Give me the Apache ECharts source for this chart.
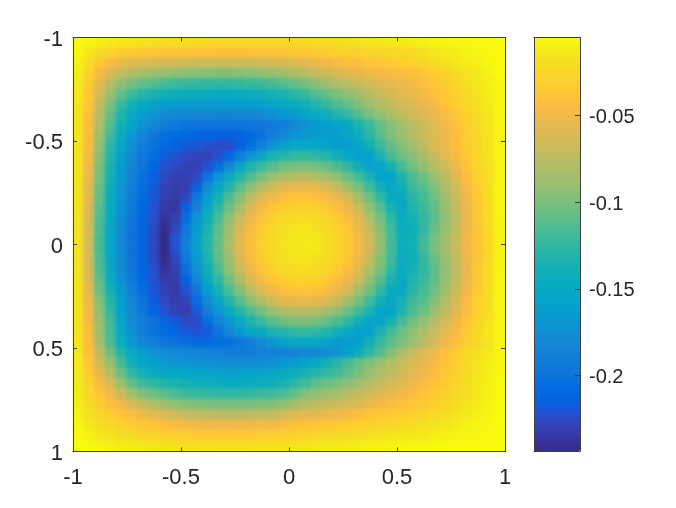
<!DOCTYPE html>
<html><head><meta charset="utf-8">
<style>html,body{margin:0;padding:0;background:#fff}#c{width:676px;height:508px}</style>
<script src="https://cdn.jsdelivr.net/npm/echarts@6/dist/echarts.min.js"></script>
</head><body><div id="c"></div>
<script>
// magnitudes in thousandths (value = -m/1000); rows top (y=-1) to bottom (y=1), columns left (x=-1) to right (x=1)
const surfaceRows = [
[6,8,10,12,14,15,17,18,19,20,21,22,23,24,24,25,25,25,25,24,24,23,22,21,20,19,17,16,14,13,12,11,10,9,8,8,7,6,5,5],
[8,15,22,28,32,35,37,38,39,40,40,41,41,42,42,42,41,41,40,39,37,36,34,32,31,30,29,28,27,25,24,22,19,16,13,11,9,8,7,6],
[10,22,36,46,52,57,60,62,64,65,66,67,68,68,68,68,67,66,65,63,60,57,53,50,47,44,42,39,37,34,31,29,25,22,19,15,12,10,8,6],
[12,28,47,62,72,79,84,88,91,93,95,96,97,97,97,96,95,93,90,87,83,78,72,67,62,58,54,50,48,46,44,42,38,33,28,22,17,13,9,6],
[14,32,56,77,92,102,108,113,117,120,122,124,125,125,125,124,122,120,117,113,108,102,95,87,80,75,70,65,60,56,52,48,43,38,32,26,20,15,11,7],
[15,36,64,90,108,120,129,135,139,141,143,144,145,146,146,145,143,141,138,134,129,122,114,107,100,93,85,76,70,64,58,53,48,42,36,29,23,17,12,7],
[16,39,72,100,122,138,150,158,163,165,166,166,166,165,165,164,162,159,156,152,147,140,132,124,116,108,98,88,80,72,65,59,54,47,40,33,26,19,13,7],
[17,42,78,108,132,149,162,171,177,180,182,183,183,183,183,182,180,178,174,170,164,157,148,140,132,125,113,102,92,82,73,67,60,53,45,37,29,21,14,8],
[17,44,82,113,140,158,172,182,190,194,197,198,199,199,199,198,197,195,193,191,184,175,168,162,158,150,136,122,108,96,85,77,68,60,50,41,32,23,15,8],
[17,45,88,120,147,168,184,195,203,207,210,212,213,214,214,212,208,200,190,180,172,168,165,163,161,155,143,128,113,100,89,78,70,60,52,43,33,24,16,8],
[17,47,92,127,154,176,190,200,208,213,218,220,222,225,224,215,205,190,172,158,151,150,152,158,163,165,155,140,122,108,97,85,74,62,53,43,33,25,16,8],
[17,49,96,132,160,180,195,207,216,222,226,228,230,222,210,192,172,150,136,130,125,124,126,131,140,150,162,160,135,118,105,95,83,70,58,46,35,25,16,8],
[17,51,100,136,164,184,198,211,222,226,230,231,222,205,180,155,134,122,112,105,101,100,102,107,116,126,142,158,158,137,118,103,92,78,66,52,40,28,18,8],
[17,53,103,139,167,187,202,215,226,231,232,226,200,172,148,130,115,101,90,82,77,75,78,85,94,106,120,136,158,155,133,115,105,90,75,58,44,30,19,8],
[17,55,106,142,170,190,205,218,229,233,232,215,177,151,131,111,94,80,66,58,55,53,55,60,71,86,102,120,140,152,140,120,112,98,81,64,47,32,20,8],
[17,57,109,145,172,192,207,220,231,235,226,195,162,138,115,96,75,60,50,43,40,38,41,45,53,64,85,104,125,146,150,128,118,105,87,69,50,34,21,8],
[17,60,112,148,174,194,209,222,234,236,215,186,150,127,104,83,61,48,38,32,28,27,29,35,42,53,68,92,112,136,150,132,122,109,90,72,53,36,22,8],
[18,62,114,150,176,196,211,224,238,232,205,172,142,117,93,70,52,40,31,25,22,20,23,27,34,44,58,80,103,127,147,138,125,111,92,74,54,37,23,9],
[18,64,116,152,178,198,212,225,242,228,197,164,136,110,87,62,45,34,25,20,17,15,18,22,29,38,52,72,97,121,145,142,124,107,90,73,53,38,24,9],
[18,65,118,153,180,199,213,226,243,222,190,160,132,107,83,58,43,31,23,18,14,13,14,19,26,36,48,66,93,118,143,140,120,102,86,71,52,38,24,10],
[18,65,118,153,180,199,213,226,243,222,190,160,132,107,83,58,43,31,23,18,14,13,14,19,26,36,48,66,93,118,143,140,120,102,86,71,52,38,24,10],
[18,64,116,152,178,198,212,225,242,228,195,164,136,110,87,62,45,34,25,20,17,15,18,22,29,38,52,72,97,121,145,142,124,107,90,73,53,38,24,9],
[18,62,114,150,176,196,211,224,238,231,203,172,142,117,93,70,52,40,31,25,22,20,23,27,34,44,58,80,103,127,147,138,125,111,92,74,54,37,23,9],
[17,60,110,146,174,194,209,222,234,234,214,184,150,127,104,83,61,48,38,32,28,27,29,35,42,53,68,92,112,136,150,132,122,109,90,72,53,36,22,8],
[17,56,105,138,168,190,206,220,230,235,222,195,162,138,115,96,75,60,50,43,40,38,41,45,53,64,85,104,125,146,150,128,118,105,87,69,50,34,21,8],
[17,52,98,130,163,184,200,216,226,233,230,205,177,151,131,111,94,80,66,58,55,53,55,60,71,86,102,120,140,152,140,120,112,98,80,63,46,31,20,8],
[17,50,92,125,160,180,196,212,222,230,233,220,190,170,148,130,115,101,90,82,77,75,78,85,94,106,120,136,158,155,133,115,105,89,74,58,43,30,19,8],
[17,48,90,120,156,178,190,198,210,218,226,225,205,186,168,150,134,122,112,105,101,100,102,107,116,126,142,158,158,137,118,103,92,78,65,51,39,27,17,8],
[17,46,88,118,152,174,190,200,207,212,218,222,218,200,182,168,155,147,136,130,125,124,126,131,140,150,162,160,135,118,105,93,81,69,57,46,35,24,15,8],
[17,45,85,115,145,168,182,192,197,200,204,207,208,206,203,196,188,178,168,158,151,150,152,158,164,165,160,140,122,110,100,88,76,64,52,42,33,25,16,8],
[14,42,75,105,130,150,165,172,176,180,182,185,187,188,190,190,190,189,187,186,185,182,180,178,172,160,143,127,112,96,82,70,60,50,41,33,25,18,13,8],
[15,38,65,90,118,140,155,162,166,168,170,172,174,176,178,178,178,176,174,170,166,160,151,140,128,118,107,97,88,79,70,62,55,47,39,31,24,17,12,7],
[14,32,55,78,105,125,138,146,150,152,154,155,156,158,160,160,158,155,152,148,144,137,130,124,118,110,100,90,81,73,66,58,51,44,37,30,23,16,11,7],
[13,28,45,62,88,108,120,126,130,134,138,140,142,144,145,145,144,142,140,136,128,118,110,105,100,94,86,78,71,64,58,52,46,40,34,28,21,15,10,6],
[12,25,38,50,68,85,97,105,110,116,120,122,124,125,125,125,124,122,120,116,108,98,92,88,84,78,72,66,60,55,50,45,40,35,30,25,19,14,10,6],
[11,22,32,42,50,62,72,80,86,92,96,98,100,100,100,100,100,99,97,92,85,78,75,71,68,63,58,53,48,44,41,38,34,30,26,22,17,13,9,5],
[9,18,26,32,38,44,50,56,60,66,70,72,74,75,75,75,74,73,71,67,61,57,55,52,50,47,43,40,37,34,32,29,26,23,20,17,13,10,8,5],
[7,14,20,25,30,34,37,40,42,46,48,50,50,50,50,50,50,49,48,45,42,40,38,36,35,33,31,29,27,25,23,21,19,17,15,12,10,8,7,5],
[6,10,14,17,20,23,26,28,30,32,33,34,35,35,35,35,34,33,32,31,29,27,25,24,23,22,21,19,18,16,15,14,13,11,10,9,8,7,6,5],
[5,6,8,10,12,13,15,16,17,18,19,19,19,19,19,19,19,18,18,18,17,16,15,14,13,12,11,10,9,9,8,7,7,6,6,5,5,5,5,5]
];
const axisTicks = [-1, -0.5, 0, 0.5, 1];
const colorbarTicks = [-0.05, -0.1, -0.15, -0.2];
const colorMin = -0.2438, colorMax = -0.005;
const parula = [[.2081,.1663,.5292],[.2116,.1898,.5777],[.2123,.2138,.6270],[.2081,.2386,.6771],[.1959,.2645,.7279],[.1707,.2919,.7792],[.1253,.3242,.8303],[.0591,.3598,.8683],[.0117,.3875,.8820],[.0060,.4086,.8828],[.0165,.4266,.8786],[.0329,.4430,.8720],[.0498,.4586,.8641],[.0629,.4737,.8554],[.0723,.4887,.8467],[.0779,.5040,.8384],[.0793,.5200,.8312],[.0749,.5375,.8263],[.0641,.5570,.8240],[.0488,.5772,.8228],[.0343,.5966,.8199],[.0265,.6137,.8135],[.0239,.6287,.8038],[.0231,.6418,.7913],[.0228,.6535,.7768],[.0267,.6642,.7607],[.0384,.6743,.7436],[.0590,.6838,.7254],[.0843,.6928,.7062],[.1133,.7015,.6859],[.1453,.7098,.6646],[.1801,.7177,.6424],[.2178,.7250,.6193],[.2586,.7317,.5954],[.3022,.7376,.5712],[.3482,.7424,.5473],[.3953,.7459,.5244],[.4420,.7481,.5033],[.4871,.7491,.4840],[.5300,.7491,.4661],[.5709,.7485,.4494],[.6099,.7473,.4337],[.6473,.7456,.4188],[.6834,.7435,.4044],[.7184,.7411,.3905],[.7525,.7384,.3768],[.7858,.7356,.3633],[.8185,.7327,.3498],[.8507,.7299,.3360],[.8824,.7274,.3217],[.9139,.7258,.3063],[.9450,.7261,.2886],[.9739,.7314,.2666],[.9938,.7455,.2403],[.9990,.7653,.2164],[.9955,.7861,.1967],[.9880,.8066,.1794],[.9789,.8271,.1633],[.9697,.8481,.1475],[.9626,.8705,.1309],[.9589,.8949,.1132],[.9598,.9218,.0948],[.9661,.9514,.0755],[.9763,.9831,.0538]];
const parulaCss = parula.map(c => 'rgb(' + c.map(v => Math.round(v * 255)).join(',') + ')');

const cats = surfaceRows[0].map((_, i) => i);
const rowCats = surfaceRows.map((_, i) => i);
const cells = [];
surfaceRows.forEach((row, j) => row.forEach((m, i) => cells.push([i, j, -m / 1000])));

const ink = '#404040';
const font = { color: '#262626', fontFamily: 'Liberation Sans', fontSize: 22 };
const frameAxis = (extra) => Object.assign({
  type: 'value', min: -1, max: 1, interval: 0.5, z: 20, gridIndex: 0,
  splitLine: { show: false },
  axisLine: { show: true, onZero: false, lineStyle: { color: ink, width: 1 } },
  axisTick: { show: true, inside: true, length: 4, lineStyle: { color: ink, width: 1 } },
  axisLabel: { show: false }
}, extra);
const fmt = v => String(v);

// Soft cell: a radial fade around each cell centre, so neighbouring cells blend like shaded surface
function softCell(params, api) {
  const c = api.coord([api.value(0), api.value(1)]);
  const s = api.size([1, 1]);
  const col = api.visual('color');
  const clear = echarts.color.modifyAlpha(col, 0);
  return {
    type: 'rect',
    shape: { x: c[0] - s[0], y: c[1] - s[1], width: 2 * s[0], height: 2 * s[1] },
    style: { fill: { type: 'radial', x: 0.5, y: 0.5, r: 0.5, colorStops: [{ offset: 0, color: col }, { offset: 1, color: clear }] } },
    silent: true
  };
}

const chart = echarts.init(document.getElementById('c'), null, { renderer: 'canvas' });
chart.setOption({
  animation: false,
  backgroundColor: '#fff',
  grid: [
    { left: 73, top: 37.5, width: 432, height: 414 },
    { left: 534, top: 37.5, width: 46, height: 414 }
  ],
  xAxis: [
    { type: 'category', gridIndex: 0, data: cats, show: false },
    frameAxis({ position: 'bottom', axisLabel: Object.assign({ show: true, margin: 15, formatter: fmt, customValues: axisTicks }, font) }),
    frameAxis({ position: 'top' }),
    { type: 'value', gridIndex: 1, position: 'top', min: 0, max: 1, z: 20, splitLine: { show: false }, axisTick: { show: false }, axisLabel: { show: false }, axisLine: { show: true, onZero: false, lineStyle: { color: ink } } },
    { type: 'value', gridIndex: 1, position: 'bottom', min: 0, max: 1, z: 20, splitLine: { show: false }, axisTick: { show: false }, axisLabel: { show: false }, axisLine: { show: true, onZero: false, lineStyle: { color: ink } } }
  ],
  yAxis: [
    { type: 'category', gridIndex: 0, data: rowCats, inverse: true, show: false },
    frameAxis({ position: 'left', inverse: true, axisLabel: Object.assign({ show: true, margin: 10, verticalAlign: 'top', lineHeight: 4, formatter: fmt, customValues: axisTicks }, font) }),
    frameAxis({ position: 'right', inverse: true }),
    { type: 'value', gridIndex: 1, position: 'left', min: colorMin, max: colorMax, z: 20, splitLine: { show: false }, axisTick: { show: false }, axisLabel: { show: false }, axisLine: { show: true, onZero: false, lineStyle: { color: ink } } },
    { type: 'value', gridIndex: 1, position: 'right', min: colorMin, max: colorMax, z: 20, splitLine: { show: false },
      axisLine: { show: true, onZero: false, lineStyle: { color: ink } },
      axisTick: { show: true, inside: true, length: 5, customValues: colorbarTicks, lineStyle: { color: ink } },
      axisLabel: Object.assign({ show: true, margin: 9, verticalAlign: 'top', lineHeight: 4, formatter: fmt, customValues: colorbarTicks }, font, { fontSize: 20 }) }
  ],
  visualMap: {
    type: 'continuous', min: colorMin, max: colorMax, seriesIndex: [0, 1], dimension: 2,
    left: 534, top: 37.5, itemWidth: 46, itemHeight: 414, padding: 0,
    calculable: false, hoverLink: false, text: null, inRange: { color: parulaCss }
  },
  series: [{
    type: 'heatmap', xAxisIndex: 0, yAxisIndex: 0, data: cells, progressive: 0,
    emphasis: { disabled: true }, silent: true
  }, {
    type: 'custom', xAxisIndex: 0, yAxisIndex: 0, data: cells, renderItem: softCell,
    encode: { x: 0, y: 1 }, clip: true, progressive: 0, silent: true
  }]
});
</script></body></html>
